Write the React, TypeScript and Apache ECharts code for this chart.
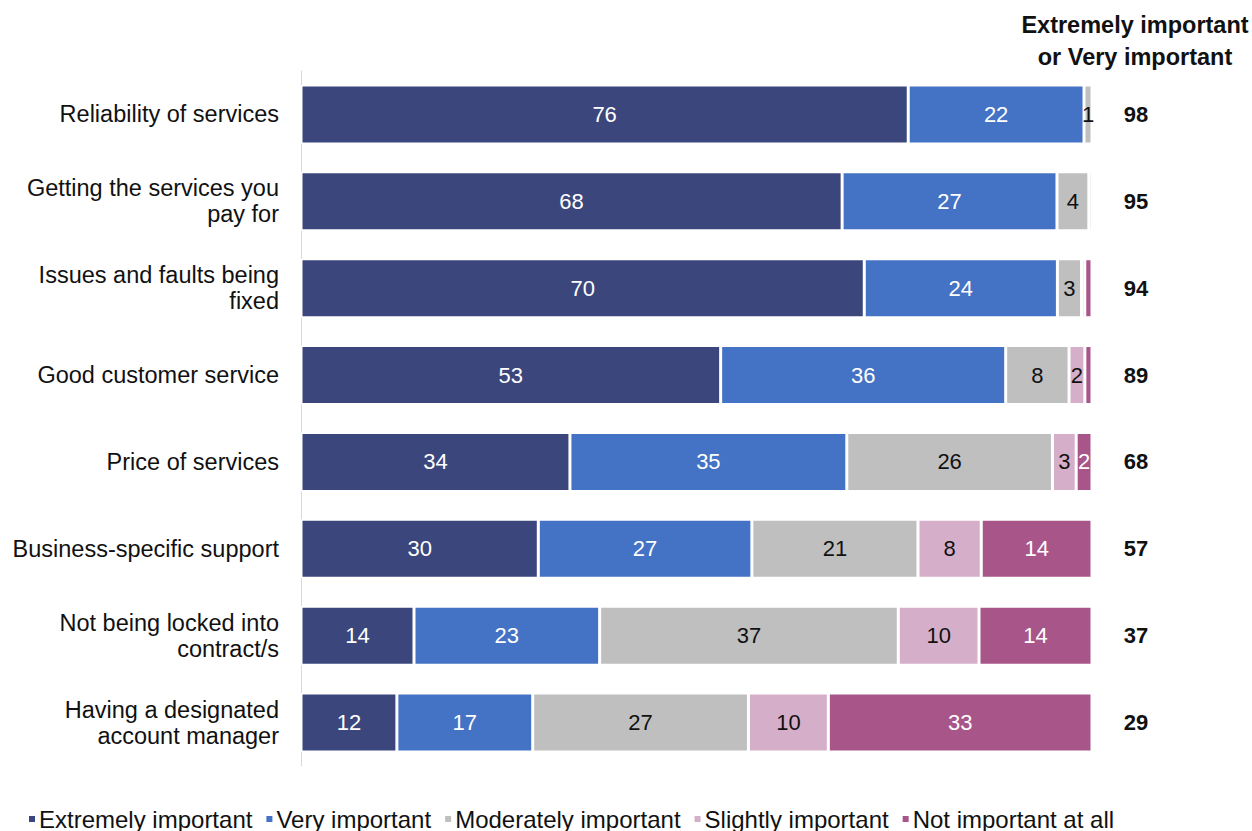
import React, { useEffect, useRef } from "react";
import * as echarts from "echarts";

const categories = [
  "Reliability of services",
  "Getting the services you\npay for",
  "Issues and faults being\nfixed",
  "Good customer service",
  "Price of services",
  "Business-specific support",
  "Not being locked into\ncontract/s",
  "Having a designated\naccount manager",
];
const extremely = [76, 68, 70, 53, 34, 30, 14, 12];
const very = [22, 27, 24, 36, 35, 27, 23, 17];
const moderately = [1, 4, 3, 8, 26, 21, 37, 27];
const slightly = [0, 0.4, 0.4, 2, 3, 8, 10, 10];
const notImportant = [0, 0, 0.9, 0.9, 2, 14, 14, 33];
const totals = ["98", "95", "94", "89", "68", "57", "37", "29"];

const seriesDefs = [
  { name: "Extremely important", data: extremely, color: "#3B477C", labelColor: "#FFFFFF" },
  { name: "Very important", data: very, color: "#4472C4", labelColor: "#FFFFFF" },
  { name: "Moderately important", data: moderately, color: "#BFBFBF", labelColor: "#111111" },
  { name: "Slightly important", data: slightly, color: "#D5AFC9", labelColor: "#111111" },
  { name: "Not important at all", data: notImportant, color: "#A8568A", labelColor: "#FFFFFF" },
];

// each bar fills 100% of its row
const rowSums = categories.map((_, i) => seriesDefs.reduce((acc, s) => acc + s.data[i], 0));

const FONT = "Liberation Sans, Arial, sans-serif";

export default function App() {
  const ref = useRef<HTMLDivElement>(null);
  useEffect(() => {
    if (!ref.current) return;
    const chart = echarts.init(ref.current, null, { renderer: "svg" });
    chart.setOption({
      animation: false,
      textStyle: { fontFamily: FONT },
      grid: { left: 301, top: 71, width: 791, height: 695, containLabel: false },
      xAxis: {
        type: "value",
        min: 0,
        max: 100,
        show: false,
      },
      yAxis: [
        {
          type: "category",
          data: categories,
          inverse: true,
          axisTick: { show: false },
          axisLine: { show: true, lineStyle: { color: "#D9D9D9", width: 1 } },
          axisLabel: {
            color: "#111111",
            fontSize: 23.5,
            fontFamily: FONT,
            lineHeight: 26,
            margin: 22,
            align: "right",
          },
          splitLine: { show: false },
        },
        {
          type: "category",
          data: totals,
          inverse: true,
          position: "right",
          axisTick: { show: false },
          axisLine: { show: false },
          axisLabel: {
            color: "#111111",
            fontSize: 22,
            fontWeight: "bold",
            fontFamily: FONT,
            margin: 44,
            align: "center",
          },
        },
      ],
      legend: {
        left: 22,
        bottom: -5,
        itemWidth: 8,
        itemHeight: 8,
        itemGap: 12,
        icon: "rect",
        textStyle: { fontSize: 24, color: "#111111", fontFamily: FONT, padding: [0, 0, 0, -2] },
        data: seriesDefs.map((s) => s.name),
      },
      graphic: [
        {
          type: "text",
          x: 1135,
          y: 9,
          style: {
            text: "Extremely important\nor Very important",
            fontSize: 23.5,
            fontWeight: "bold",
            fontFamily: FONT,
            fill: "#111111",
            align: "center",
            verticalAlign: "top",
            lineHeight: 32,
          },
        },
      ],
      series: seriesDefs.map((s) => ({
        name: s.name,
        type: "bar",
        stack: "total",
        barWidth: "68%",
        data: s.data.map((v, i) => (v / rowSums[i]) * 100),
        itemStyle: { color: s.color, borderColor: "#FFFFFF", borderWidth: 1.5 },
        label: {
          show: true,
          position: "inside",
          color: s.labelColor,
          fontSize: 22,
          fontFamily: FONT,
          formatter: (p: any) => {
            const v = s.data[p.dataIndex];
            return v >= 1 ? String(v) : "";
          },
        },
      })),
    });
    return () => chart.dispose();
  }, []);
  return (
    <div
      ref={ref}
      style={{ position: "absolute", left: 0, top: 0, width: 1252, height: 831 }}
    />
  );
}
